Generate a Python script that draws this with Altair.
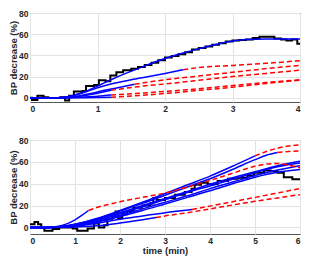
import altair as alt
import pandas as pd

# ---------------- top panel (0-4 min) ----------------
top_meas_t = [0, 0.03, 0.11, 0.2, 0.27, 0.45, 0.52, 0.58, 0.65, 0.78, 0.83, 0.95, 1.02, 1.12, 1.19,
              1.28, 1.38, 1.5, 1.6, 1.7, 1.8, 1.9, 2.0, 2.1, 2.2, 2.3, 2.4, 2.5, 2.6, 2.7, 2.8,
              2.9, 3.0, 3.1, 3.2, 3.3, 3.4, 3.62, 3.72, 3.8, 3.88, 3.96, 4.0]
top_meas_bp = [0, -2, 1.8, 0.5, -0.3, 0.5, -2.5, 2, 6, 6.5, 11, 12, 16.5, 15.5, 21,
               24, 26, 27.5, 29, 31, 33, 35.5, 38, 39.5, 41, 43, 45.5, 47, 48.5, 50, 51.5,
               53, 54, 54.5, 55, 56.5, 57.5, 56, 55, 54, 55, 51, 51]

top_fit_long_t = [0, 0.4, 0.6, 0.8, 1.0, 1.2, 1.4, 1.6, 1.8, 2.0, 2.2, 2.4, 2.6, 2.8, 3.0, 3.2, 3.5, 3.8, 4.0]
top_fit_long_bp = [0, 0, 1.5, 5.5, 11, 17, 22.5, 27.5, 32.5, 37, 41, 44.5, 48, 51, 53.5, 55, 55.5, 55.5, 55.5]

top_fit2_t = [0, 0.4, 0.6, 0.8, 1.0, 1.2, 1.5, 1.8, 2.0, 2.27]
top_fit2_bp = [0, 0, 1.5, 5, 9.5, 13, 17, 20.5, 23, 26.5]
top_pred2_t = [2.27, 2.5, 3.0, 3.5, 4.0]
top_pred2_bp = [26.5, 28.5, 30.5, 32.5, 35]

top_fit3_t = [0, 0.4, 0.7, 0.9, 1.1, 1.3, 1.55]
top_fit3_bp = [0, 0, 1.5, 4, 7, 9.5, 12.8]
top_pred3_t = [1.55, 2.0, 2.5, 3.0, 3.5, 4.0]
top_pred3_bp = [12.8, 17, 20.5, 24, 27.5, 30.5]

top_fit4_t = [0, 0.4, 0.7, 0.9, 1.05, 1.2]
top_fit4_bp = [0, 0, 1, 3, 5, 7]
top_pred4_t = [1.2, 1.6, 2.0, 2.5, 3.0, 3.5, 4.0]
top_pred4_bp = [7, 10.5, 13, 16.5, 20, 23, 26]

top_fit5_t = [0, 0.5, 0.8, 1.0, 1.2]
top_fit5_bp = [0, 0, 0.8, 1.5, 2.5]
top_pred5_t = [1.2, 2.0, 2.5, 3.0, 3.5, 4.0]
top_pred5_bp = [2.5, 6, 8.5, 11.5, 14.5, 17]

top_fit6_t = [0, 0.5, 1.2]
top_fit6_bp = [0, 0, 0.5]
top_pred6_t = [1.2, 2.0, 2.5, 3.0, 3.5, 4.0]
top_pred6_bp = [0.5, 4, 7, 10, 13.5, 16.5]

# ---------------- bottom panel (0-6 min) ----------------
bot_meas_t = [0, 0.1, 0.18, 0.25, 0.32, 0.5, 0.65, 0.85, 0.95, 1.05, 1.28, 1.42, 1.53, 1.65, 1.72,
              1.83, 1.9, 1.96, 2.05, 2.16, 2.3, 2.49, 2.67, 2.74, 2.82, 3.0, 3.22, 3.44, 3.59,
              3.66, 3.8, 3.95, 4.17, 4.4, 4.61, 4.83, 4.98, 5.2, 5.35, 5.5, 5.64, 5.83, 6.0]
bot_meas_bp = [3, 5, 3, -0.5, -3, -1.5, 0, 0, -1, -3, -1, 3.5, 0, 2, 8,
               11, 14.5, 8.5, 12, 15, 18, 20, 22, 27, 25, 27, 30, 32.5, 35.5,
               39, 41, 39.5, 42.5, 44.5, 45.5, 47.5, 50, 52, 51.5, 50, 46, 44, 43.5]

bot_fit_b1_t = [0, 0.4, 1.0, 1.5, 2.0, 2.5, 3.0, 3.5, 4.0, 4.5, 5.0]
bot_fit_b1_bp = [0, 0, 3, 8.5, 15.5, 23, 31, 39, 47, 56, 65.5]
bot_pred_b1_t = [5.0, 5.25, 5.5, 5.75, 6.0]
bot_pred_b1_bp = [65.5, 69.5, 72.5, 74.5, 75.5]

bot_fit_b2_t = [0, 0.4, 1.0, 1.5, 2.0, 2.5, 3.0, 3.5, 4.0, 4.5, 5.0, 5.25, 5.5]
bot_fit_b2_bp = [0, 0, 3, 8, 15, 22, 29.5, 37, 44.5, 53, 62, 66, 68.5]
bot_pred_b2_t = [5.5, 5.75, 6.0]
bot_pred_b2_bp = [68.5, 69.5, 70]

bot_fit_re_t = [0, 0.4, 0.6, 0.8, 1.0, 1.15, 1.3]
bot_fit_re_bp = [0, 0, 0.8, 3, 7, 11, 15.5]
bot_pred_re_t = [1.3, 1.5, 1.75, 2.0, 2.5, 3.0, 3.5, 4.0, 4.5, 5.0, 5.25, 5.5, 5.75, 6.0]
bot_pred_re_bp = [15.5, 18.5, 21, 23.5, 27.5, 31.5, 37, 43, 49.5, 56, 58, 58.5, 57, 54.5]

bot_fit_m_t = [0, 0.4, 1.0, 1.5, 2.0, 2.5, 3.0, 3.5, 4.0, 4.5, 5.0, 5.5, 6.0]
bot_fit_m1_bp = [0, 0, 2.5, 7.5, 13.5, 20, 26.5, 33, 39.5, 45.5, 51, 56.5, 60.5]
bot_fit_m2_bp = [0, 0, 2, 6.5, 12.5, 19, 25.5, 32, 38, 44, 50, 55.5, 59]
bot_fit_m3_bp = [0, 0, 1.5, 5.5, 11, 17, 23, 29, 35.5, 41.5, 47.5, 52.5, 56.5]
bot_fit_m4_bp = [0, 0, 1.5, 5, 10, 15.5, 21.5, 27.5, 33.5, 40, 46, 50.5, 53]

bot_fit_l1_t = [0, 0.4, 1.0, 1.5, 2.0, 2.5, 3.0, 3.6]
bot_fit_l1_bp = [0, 0, 1, 4, 7.5, 10.5, 13.5, 16.5]
bot_pred_l1_t = [3.6, 4.0, 4.5, 5.0, 5.5, 6.0]
bot_pred_l1_bp = [16.5, 19.5, 23.5, 27.5, 31.5, 35.5]

bot_fit_l2_t = [0, 0.4, 1.0, 1.5, 2.0, 2.5, 2.8]
bot_fit_l2_bp = [0, 0, 0.3, 1.5, 4, 7, 9]
bot_pred_l2_t = [2.8, 3.0, 3.5, 4.0, 4.5, 5.0, 5.5, 6.0]
bot_pred_l2_bp = [9, 10.5, 13.5, 17, 20.5, 24, 27, 30]

y_ticks = [0, 20, 40, 60, 80]


def rows(curves):
    out = []
    for name, ts, vs in curves:
        for t, v in zip(ts, vs):
            out.append({"curve": name, "t": t, "bp": v})
    return pd.DataFrame(out)


FONT = "Liberation Sans"
INK = "#262626"


def panel(meas, fits, preds, xmax, ymin, height, xtitle):
    xs = alt.Scale(domain=[0, xmax], nice=False)
    ys = alt.Scale(domain=[ymin, 80], nice=False)
    xax = alt.Axis(values=list(range(0, xmax + 1)), grid=True, domain=False, ticks=False,
                   labelPadding=2, titlePadding=1, title=xtitle)
    yax = alt.Axis(values=y_ticks, grid=True, domain=False, ticks=False,
                   labelPadding=2, titlePadding=0, title="BP decrease (%)")
    base_x = alt.X("t:Q", scale=xs, axis=xax)
    base_y = alt.Y("bp:Q", scale=ys, axis=yax)
    black = alt.Chart(rows([meas])).mark_line(
        interpolate="step-after", color="black", strokeWidth=2, clip=True
    ).encode(x=base_x, y=base_y, detail="curve:N")
    blue = alt.Chart(rows(fits)).mark_line(
        color="#0000ff", strokeWidth=1.5, interpolate="monotone", clip=True
    ).encode(x=base_x, y=base_y, detail="curve:N")
    red = alt.Chart(rows(preds)).mark_line(
        color="#ff0000", strokeWidth=1.5, strokeDash=[5, 3], interpolate="monotone", clip=True
    ).encode(x=base_x, y=base_y, detail="curve:N")
    return alt.layer(black, blue, red).properties(width=270, height=height)


top = panel(
    ("meas", top_meas_t, top_meas_bp),
    [("f1", top_fit_long_t, top_fit_long_bp), ("f2", top_fit2_t, top_fit2_bp),
     ("f3", top_fit3_t, top_fit3_bp), ("f4", top_fit4_t, top_fit4_bp),
     ("f5", top_fit5_t, top_fit5_bp), ("f6", top_fit6_t, top_fit6_bp)],
    [("p2", top_pred2_t, top_pred2_bp), ("p3", top_pred3_t, top_pred3_bp),
     ("p4", top_pred4_t, top_pred4_bp), ("p5", top_pred5_t, top_pred5_bp),
     ("p6", top_pred6_t, top_pred6_bp)],
    4, -4, 89, None,
)

bottom = panel(
    ("meas", bot_meas_t, bot_meas_bp),
    [("b1", bot_fit_b1_t, bot_fit_b1_bp), ("b2", bot_fit_b2_t, bot_fit_b2_bp),
     ("re", bot_fit_re_t, bot_fit_re_bp), ("m1", bot_fit_m_t, bot_fit_m1_bp),
     ("m2", bot_fit_m_t, bot_fit_m2_bp), ("m3", bot_fit_m_t, bot_fit_m3_bp),
     ("m4", bot_fit_m_t, bot_fit_m4_bp), ("l1", bot_fit_l1_t, bot_fit_l1_bp),
     ("l2", bot_fit_l2_t, bot_fit_l2_bp)],
    [("pb1", bot_pred_b1_t, bot_pred_b1_bp), ("pb2", bot_pred_b2_t, bot_pred_b2_bp),
     ("pre", bot_pred_re_t, bot_pred_re_bp), ("pl1", bot_pred_l1_t, bot_pred_l1_bp),
     ("pl2", bot_pred_l2_t, bot_pred_l2_bp)],
    6, -6, 94, "time (min)",
)

chart = alt.vconcat(top, bottom, spacing=22).properties(
    padding={"left": 0, "top": 0, "right": 0, "bottom": 0}
).configure_view(
    stroke="#555555", strokeWidth=1
).configure_axis(
    labelFont=FONT, titleFont=FONT, labelFontSize=8.5, labelFontWeight="bold",
    titleFontSize=9.5, titleFontWeight="bold", labelColor=INK, titleColor=INK,
    gridColor="#e3e3e3", gridWidth=1
)

chart.save("out.html", embed_options={"renderer": "svg", "actions": False})
